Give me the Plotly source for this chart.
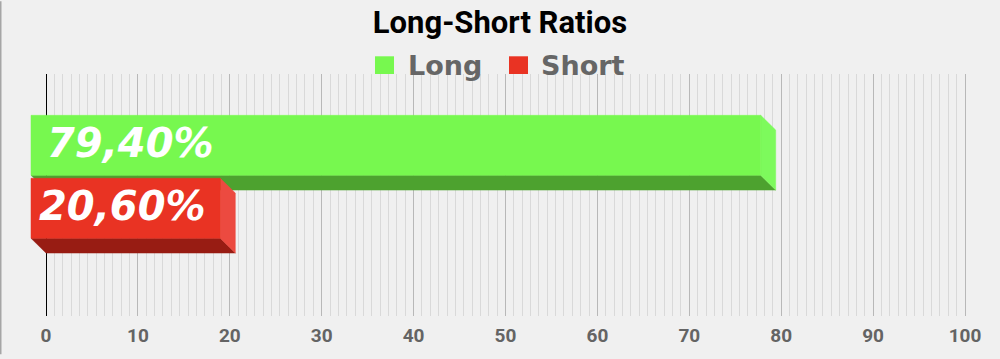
import plotly.graph_objects as go

# ---------------- data ----------------
series = ["Long", "Short"]
values = [79.4, 20.6]
value_labels = ["79,40%", "20,60%"]
title_text = "Long-Short Ratios"
tick_values = list(range(0, 101, 10))
tick_labels = [str(v) for v in tick_values]

# ---------------- style ----------------
front_colors = ["#77F84F", "#E93323"]
side_colors = ["#7DFA5C", "#EC4A40"]
bottom_colors = ["#4DA22F", "#981C13"]
legend_colors = ["#77F84F", "#E93323"]
label_shift = [14, 6]

W, H = 1000, 359
M_L, M_R, M_T, M_B = 26, 30, 74, 39
PW = W - M_L - M_R
PH = H - M_T - M_B
ZERO_PX = 46            # pixel position of x = 0
FULL_PX = 965           # pixel position of x = 100
PPU = (FULL_PX - ZERO_PX) / 100.0
X_MIN = -(ZERO_PX - M_L) / PPU
X_MAX = (W - M_R - ZERO_PX) / PPU
DEPTH = 15                   # 3D depth in px
DX = DEPTH / PPU
FACE_TOP = [42, 106]         # px from plot top
FACE_H = 61


def px_to_paper_x(px):
    return (px - M_L) / PW


def px_to_paper_y(py):
    return (H - M_B - py) / PH


fig = go.Figure()

for i, (name, v) in enumerate(zip(series, values)):
    y0 = FACE_TOP[i]
    y1 = y0 + FACE_H
    # bottom face
    fig.add_trace(go.Scatter(
        x=[-DX, v - DX, v, 0, -DX], y=[y1, y1, y1 + DEPTH, y1 + DEPTH, y1],
        fill="toself", fillcolor=bottom_colors[i], mode="lines",
        line=dict(width=0.5, color=bottom_colors[i]), hoverinfo="skip", showlegend=False))
    # side face
    fig.add_trace(go.Scatter(
        x=[v - DX, v, v, v - DX, v - DX], y=[y0, y0 + DEPTH, y1 + DEPTH, y1, y0],
        fill="toself", fillcolor=side_colors[i], mode="lines",
        line=dict(width=0.5, color=side_colors[i]), hoverinfo="skip", showlegend=False))
    # front face
    fig.add_trace(go.Scatter(
        x=[-DX, v - DX, v - DX, -DX, -DX], y=[y0, y0, y1, y1, y0],
        fill="toself", fillcolor=front_colors[i], mode="lines",
        line=dict(width=0.5, color=front_colors[i]), hoverinfo="skip", showlegend=False,
        name=name))
    fig.add_annotation(
        x=-DX, y=(y0 + y1) / 2, xref="x", yref="y", text=value_labels[i],
        showarrow=False, xanchor="left", yanchor="middle", xshift=label_shift[i], yshift=2,
        font=dict(family="DejaVu Sans", size=40, color="white", weight="bold", style="italic"))

# manual legend
legend_sq_x = [375, 509]
legend_txt_x = [406, 539]
for i, name in enumerate(series):
    fig.add_shape(type="rect", xref="paper", yref="paper",
                  x0=px_to_paper_x(legend_sq_x[i]), x1=px_to_paper_x(legend_sq_x[i] + 19),
                  y0=px_to_paper_y(74), y1=px_to_paper_y(56),
                  fillcolor=legend_colors[i], line=dict(width=0))
    fig.add_annotation(x=px_to_paper_x(legend_txt_x[i]), y=px_to_paper_y(65),
                       xref="paper", yref="paper", text=name, showarrow=False,
                       xanchor="left", yanchor="middle",
                       font=dict(family="DejaVu Sans", size=27, color="#666666", weight="bold"))

# left border line
fig.add_shape(type="line", xref="paper", yref="paper",
              x0=px_to_paper_x(0.75), x1=px_to_paper_x(0.75),
              y0=px_to_paper_y(0), y1=px_to_paper_y(H),
              line=dict(color="#A6A6A6", width=1.5))

minor_vals = [k * 10 / 11 for k in range(0, 111) if k % 11 != 0]

fig.update_layout(
    width=W, height=H,
    margin=dict(l=M_L, r=M_R, t=M_T, b=M_B, pad=0),
    paper_bgcolor="#F0F0F0", plot_bgcolor="#F0F0F0",
    title=dict(text=title_text, x=0.5, xref="container", xanchor="center",
               y=1 - 22 / H, yref="container", yanchor="middle",
               font=dict(family="Roboto", size=31, color="black", weight="bold")),
    showlegend=False,
    xaxis=dict(range=[X_MIN, X_MAX], tickmode="array", tickvals=tick_values, ticktext=tick_labels,
               showgrid=True, gridcolor="#B8B8B8", gridwidth=1.3,
               zeroline=True, zerolinecolor="#000000", zerolinewidth=1.2,
               showline=False, ticks="", ticklabelstandoff=6,
               tickfont=dict(family="Roboto", size=19, color="#646464", weight="bold"),
               minor=dict(tickvals=minor_vals, showgrid=True, gridcolor="#D9D9D9", gridwidth=1)),
    yaxis=dict(range=[PH, 0], showgrid=False, zeroline=False, showticklabels=False,
               showline=False, ticks=""),
)

fig.write_html("out.html")
